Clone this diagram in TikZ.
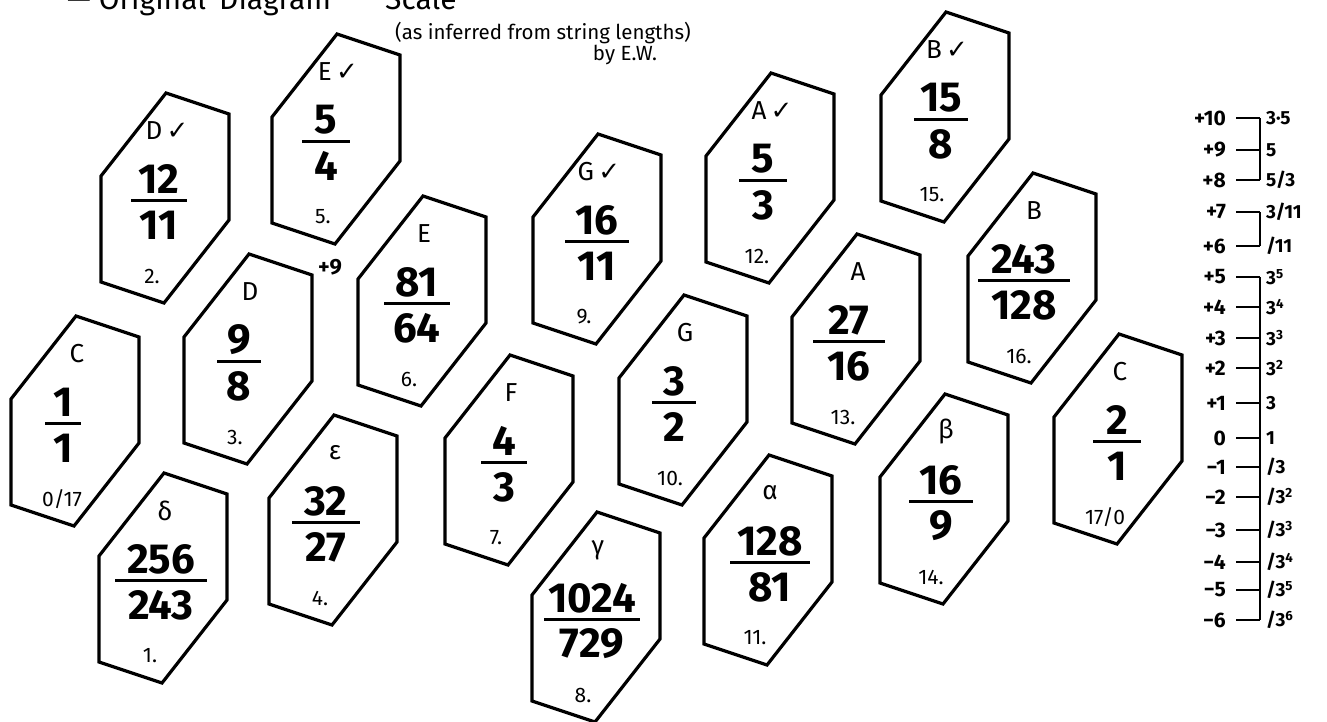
\documentclass[tikz,border=0pt]{standalone}
\usepackage{fontspec}
\setmainfont{Fira Sans}
\newfontfamily\symfont{DejaVu Sans}
\newcommand{\ck}{\,{\symfont ✓}}
\newcommand{\hexcard}[9]{%
  \draw[hexline] ({#2+1},{#3-105}) -- ({#2+64},{#3-84}) -- ({#2+64},{#3+22}) -- ({#2-1},{#3+105}) -- ({#2-64},{#3+84}) -- ({#2-64},{#3-22}) -- cycle;
  \node[toplab] (#1-t) at ({#2+2},{#3-67}) {#4};
  \coordinate (#1-bl) at ({#2+(#9)-(#8)},{#3+2});
  \coordinate (#1-br) at ({#2+(#9)+(#8)},{#3+2});
  \draw[fracbar] (#1-bl) -- (#1-br);
  \node[fraclab] (#1-n) at ({#2+(#9)},{#3-19}) {#5};
  \node[fraclab] (#1-d) at ({#2+(#9)},{#3+27}) {#6};
  \node[botlab] (#1-b) at ({#2-13},{#3+78}) {#7};
}
\begin{document}
\begin{tikzpicture}[x=1pt,y=-1pt,
  hexline/.style={line width=3.2pt, line join=miter},
  fracbar/.style={line width=3pt},
  toplab/.style={font=\fontsize{26}{26}\selectfont, inner sep=0pt},
  fraclab/.style={font=\fontsize{42}{42}\selectfont\bfseries, inner sep=0pt},
  botlab/.style={font=\fontsize{21}{21}\selectfont, inner sep=0pt},
  sclab/.style={font=\fontsize{21}{21}\selectfont\bfseries, inner sep=0pt, anchor=east},
  srlab/.style={font=\fontsize{19}{19}\selectfont\bfseries, inner sep=0pt, anchor=west},
  sctick/.style={line width=2.4pt},
  note/.style={font=\fontsize{20.5}{20.5}\selectfont, inner sep=0pt}
]
\useasboundingbox (0,0) rectangle (1327,721);
\clip (0,0) rectangle (1327,721);
\fill[white] (0,0) rectangle (1327,721);

% title (cut off at the top edge, as in the reference) and notes
\node[font=\fontsize{30}{30}\selectfont, anchor=base west, inner sep=0pt] (title) at (67,9)
  {\makebox[152pt][l]{— Original}\makebox[166pt][l]{Diagram}Scale};
\node[note] (sub1) at (543,33) {(as inferred from string lengths)};
\node[note] (sub2) at (625,55) {by E.W.};

% cards: name, cx, cy, top, num, den, bottom, bar half-width, fraction dx
\hexcard{c0}{75}{421}{C}{1}{1}{0/17}{18}{-12}
\hexcard{del}{163}{578}{δ}{256}{243}{1.}{46}{-2}
\hexcard{d2}{165}{198}{D\ck}{12}{11}{2.}{28}{-6}
\hexcard{e5}{336}{139}{E\ck}{5}{4}{5.}{24}{-10}
\hexcard{d3}{248}{359}{D}{9}{8}{3.}{22}{-9}
\hexcard{e6}{422}{301}{E}{81}{64}{6.}{33}{-5}
\hexcard{eps}{333}{520}{ε}{32}{27}{4.}{34}{-7}
\hexcard{f7}{509}{460}{F}{4}{3}{7.}{23}{-5}
\hexcard{g9}{597}{239}{G\ck}{16}{11}{9.}{32}{0}
\hexcard{a12}{770}{178}{A\ck}{5}{3}{12.}{24}{-7}
\hexcard{g10}{683}{400}{G}{3}{2}{10.}{22}{-9}
\hexcard{gam}{596}{617}{γ}{1024}{729}{8.}{48}{-4}
\hexcard{alp}{768}{560}{α}{128}{81}{11.}{40}{2}
\hexcard{a13}{856}{339}{A}{27}{16}{13.}{36}{-7}
\hexcard{bet}{944}{499}{β}{16}{9}{14.}{32}{-3}
\hexcard{c17}{1118}{439}{C}{2}{1}{17/0}{24}{-1}
\hexcard{b15}{945}{117}{B\ck}{15}{8}{15.}{27}{-4}
\hexcard{b16}{1032}{278}{B}{243}{128}{16.}{46}{-8}

\node[botlab, font=\fontsize{22}{22}\selectfont\bfseries] (plus9) at (330,267) {+9};

% scale on the right
\foreach \lab/\yy/\r [count=\i] in {
  {+10}/118/{3·5}, {+9}/150/{5}, {+8}/180/{5/3}, {+7}/212/{3/11}, {+6}/246/{/11},
  {+5}/277/{3\textsuperscript{5}}, {+4}/307/{3\textsuperscript{4}}, {+3}/338/{3\textsuperscript{3}},
  {+2}/368/{3\textsuperscript{2}}, {+1}/403/{3}, {0}/438/{1}, {−1}/467/{/3},
  {−2}/497/{/3\textsuperscript{2}}, {−3}/530/{/3\textsuperscript{3}}, {−4}/562/{/3\textsuperscript{4}},
  {−5}/590/{/3\textsuperscript{5}}, {−6}/620/{/3\textsuperscript{6}}} {
  \node[sclab] (L\i) at (1226,\yy) {\lab};
  \coordinate (S\i) at (1260,\yy);
  \node[srlab] (R\i) at (1266,\yy) {\r};
  \draw[sctick] ([xshift=10pt]L\i.east) -- (S\i);
}
\draw[sctick] (S1) -- (S3);
\draw[sctick] (S4) -- (S5);
\draw[sctick] (S6) -- (S17);
\end{tikzpicture}
\end{document}
